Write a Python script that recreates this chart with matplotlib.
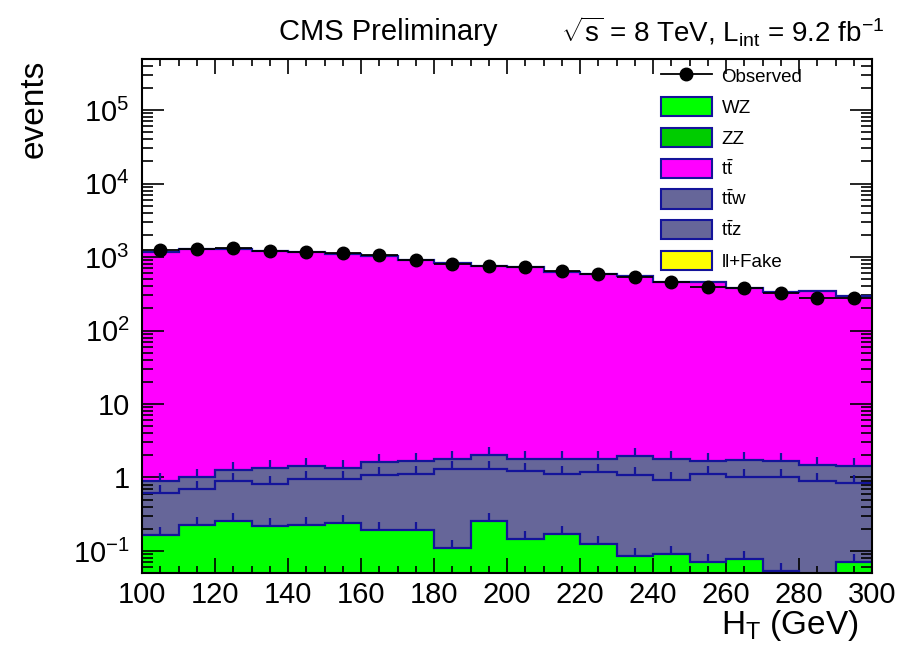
import numpy as np
import matplotlib
matplotlib.use('Agg')
import matplotlib.pyplot as plt
from matplotlib.patches import Patch
from matplotlib.lines import Line2D

plt.rcParams['font.family'] = ['Liberation Sans', 'DejaVu Sans']
plt.rcParams['mathtext.fontset'] = 'custom'
plt.rcParams['mathtext.rm'] = 'Liberation Sans'
plt.rcParams['mathtext.it'] = 'Liberation Sans:italic'
plt.rcParams['mathtext.sf'] = 'Liberation Sans'

# Data: H_T bins 100..300 GeV, width 10
bin_edges = np.arange(100, 301, 10)
observed = [1259, 1286, 1327, 1219, 1170, 1120, 1064, 919, 810, 754,
            721, 636, 579, 534, 456, 397, 378, 326, 278, 281]
wz = [0.163, 0.228, 0.258, 0.218, 0.225, 0.239, 0.195, 0.19, 0.108, 0.252,
      0.143, 0.170, 0.123, 0.084, 0.090, 0.070, 0.078, 0.052, 0.0, 0.070]
zz = [0.0] * 20
ttw = [0.459, 0.469, 0.638, 0.608, 0.729, 0.715, 0.901, 0.94, 1.186, 1.054,
       1.084, 0.946, 1.066, 1.012, 0.846, 1.046, 0.938, 0.964, 0.907, 0.782]
ttz = [0.285, 0.319, 0.370, 0.509, 0.482, 0.394, 0.531, 0.57, 0.476, 0.724,
       0.583, 0.654, 0.621, 0.834, 0.854, 0.584, 0.704, 0.664, 0.573, 0.598]
tt = [1154, 1285, 1296, 1206, 1154, 1108, 1040, 917, 826, 758,
      719, 628, 590, 542, 454, 449, 376, 331, 341, 296]
llfake = [0.0] * 20

name_wz, name_zz = 'WZ', 'ZZ'
name_tt = r'$\mathrm{t\bar{t}}$'
name_ttw = r'$\mathrm{t\bar{t}w}$'
name_ttz = r'$\mathrm{t\bar{t}z}$'
name_fake = 'll+Fake'
colors = {name_wz: '#00ff00', name_zz: '#00cc00', name_tt: '#ff00ff',
          name_ttw: '#666699', name_ttz: '#666699', name_fake: '#ffff00'}

# stack order bottom -> top
stack = [(name_wz, wz), (name_zz, zz), (name_ttw, ttw), (name_ttz, ttz),
         (name_tt, tt), (name_fake, llfake)]
legend_order = [name_wz, name_zz, name_tt, name_ttw, name_ttz, name_fake]
edge_blue = '#14149a'

fig = plt.figure(figsize=(8.99, 6.52), dpi=100)
ax = fig.add_axes([0.158, 0.121, 0.812, 0.789])

centers = (bin_edges[:-1] + bin_edges[1:]) / 2
base = np.full(20, 1e-3)
for name, vals in stack:
    top = base + np.array(vals)
    ax.stairs(top, bin_edges, baseline=base, fill=True, color=colors[name], zorder=1)
    base = top
# outlines and error ticks, drawn on top of the fills
base = np.full(20, 1e-3)
for name, vals in stack:
    top = base + np.array(vals)
    if max(vals) > 0:
        ax.stairs(top, bin_edges, baseline=None, color=edge_blue, linewidth=1.6, zorder=2)
        if name != name_tt:
            ax.plot(centers, top, linestyle='none', marker=2, markersize=6,
                    markeredgewidth=1.6, color=edge_blue, zorder=2)
    base = top

ax.errorbar(centers, observed, xerr=5, fmt='o', color='black', markersize=9,
            elinewidth=1.3, capsize=0, zorder=4)

ax.set_yscale('log')
ax.set_xlim(100, 300)
ax.set_ylim(0.05, 5e5)

ax.set_xticks(np.arange(100, 301, 20))
ax.set_xticks(np.arange(100, 301, 5), minor=True)
ax.set_yticks([0.1, 1, 10, 100, 1e3, 1e4, 1e5])
ax.set_yticklabels([r'$10^{\mathrm{-1}}$', '1', '10', r'$10^{2}$', r'$10^{3}$',
                    r'$10^{4}$', r'$10^{5}$'])
ax.yaxis.set_minor_locator(matplotlib.ticker.LogLocator(base=10, subs=np.arange(2, 10)))
ax.yaxis.set_minor_formatter(matplotlib.ticker.NullFormatter())

ax.tick_params(axis='both', which='both', direction='in', top=True, right=True,
               labelsize=21, width=1.2, colors='black')
ax.tick_params(axis='x', which='major', length=11, pad=6)
ax.tick_params(axis='x', which='minor', length=5)
ax.tick_params(axis='y', which='major', length=16, pad=9)
ax.tick_params(axis='y', which='minor', length=8)
for s in ax.spines.values():
    s.set_linewidth(1.5)

fig.text(0.955, 0.04, r'H$_{\mathrm{T}}$ (GeV)', fontsize=24, ha='right', va='center')
fig.text(0.038, 0.908, 'events', fontsize=24, rotation=90, ha='center', va='top')

fig.text(0.432, 0.951, 'CMS Preliminary', fontsize=21, ha='center', va='center')
fig.text(0.984, 0.951, r'$\sqrt{\mathrm{s}}$ = 8 TeV, L$_{\mathrm{int}}$ = 9.2 fb$^{\mathrm{-1}}$',
         fontsize=20, ha='right', va='center')

handles = [Line2D([0], [0], color='black', marker='o', markersize=9, linewidth=1.3)]
labels = ['Observed']
for name in legend_order:
    handles.append(Patch(facecolor=colors[name], edgecolor=edge_blue, linewidth=1.5))
    labels.append(name)
ax.legend(handles, labels, loc='upper left', bbox_to_anchor=(0.7, 1.0),
          frameon=False, fontsize=13.5, handlelength=2.75, handleheight=1.2,
          labelspacing=0.58, handletextpad=0.5, borderaxespad=0)

fig.savefig('out.png', dpi=100)
